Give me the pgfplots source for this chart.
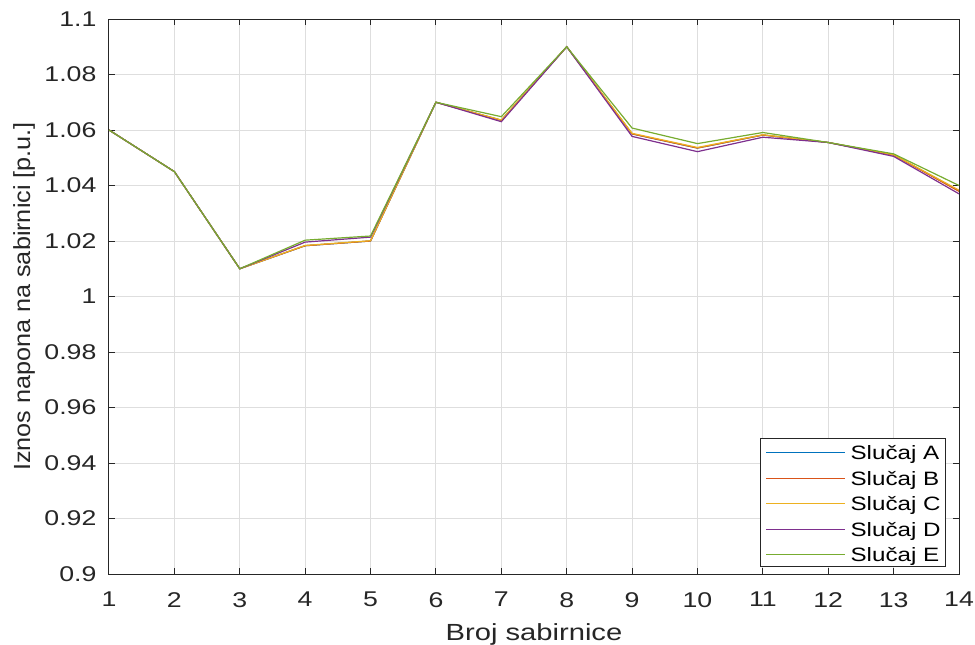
\documentclass[border=0pt]{standalone}
\usepackage{pgfplots}
\pgfplotsset{compat=1.18}
\usepackage{fontspec}
\setmainfont{Liberation Sans}[FakeStretch=1.25]
\newfontfamily\ylfont{Liberation Sans}[FakeStretch=1.08]
\definecolor{cA}{rgb}{0,0.447,0.741}
\definecolor{cB}{rgb}{0.85,0.325,0.098}
\definecolor{cC}{rgb}{0.929,0.694,0.125}
\definecolor{cD}{rgb}{0.494,0.184,0.556}
\definecolor{cE}{rgb}{0.466,0.674,0.188}
\definecolor{axgray}{rgb}{0.15,0.15,0.15}
\begin{document}
\begin{tikzpicture}
\begin{axis}[
  scale only axis,
  width=637.5pt, height=416.25pt,
  xmin=1, xmax=14, ymin=0.9, ymax=1.1,
  xtick={1,...,14},
  ytick={0.9,0.92,0.94,0.96,0.98,1,1.02,1.04,1.06,1.08,1.1},
  yticklabels={0.9,0.92,0.94,0.96,0.98,1,1.02,1.04,1.06,1.08,1.1},
  /pgf/number format/assume math mode=true,
  tick label style={font=\fontsize{16}{19}\selectfont, text=axgray, inner sep=0pt},
  xticklabel style={anchor=north, yshift=-13.5pt},
  yticklabel style={anchor=east, xshift=-9.25pt},
  xlabel={Broj sabirnice},
  ylabel={Iznos napona na sabirnici [p.u.]},
  every axis x label/.style={at={(axis description cs:0.5,-0.0883)}, anchor=north, inner sep=0pt,
    font=\fontsize{17.5}{20}\selectfont, text=axgray},
  every axis y label/.style={at={(axis description cs:-0.1129,0.5)}, rotate=90, anchor=north, inner sep=0pt,
    font=\ylfont\fontsize{17.5}{20}\selectfont, text=axgray},
  grid=major,
  major grid style={color=black!13, line width=0.75pt},
  axis line style={color=axgray, line width=0.75pt},
  tick style={color=axgray, line width=0.75pt},
  tick align=inside,
  tick pos=both,
  major tick length=4.5pt,
  legend cell align=left,
  legend style={at={(axis description cs:0.9847,0.0126)}, anchor=south east,
    draw, color=axgray, fill=white, line width=0.6pt,
    font=\fontsize{14.5}{17}\selectfont,
    inner xsep=3.75pt, inner ysep=2.8pt,
    nodes={inner sep=0pt, text height=12.9pt, text depth=1pt, text=black},
    row sep=5.225pt, column sep=3.75pt},
  legend image code/.code={\draw[#1, line width=0.9pt] (0pt,-0.75pt) -- (59.25pt,-0.75pt);},
  every axis plot/.append style={line width=0.9pt},
]
\addplot[color=cA] coordinates {(1,1.06) (2,1.045) (3,1.01) (4,1.0183) (5,1.0200) (6,1.07) (7,1.0635) (8,1.09) (9,1.0586) (10,1.0535) (11,1.0582) (12,1.0555) (13,1.0510) (14,1.0381)};
\addlegendentry{Slučaj A}
\addplot[color=cB] coordinates {(1,1.06) (2,1.045) (3,1.01) (4,1.0183) (5,1.0200) (6,1.07) (7,1.0635) (8,1.09) (9,1.0586) (10,1.0535) (11,1.0582) (12,1.0555) (13,1.0510) (14,1.0379)};
\addlegendentry{Slučaj B}
\addplot[color=cC] coordinates {(1,1.06) (2,1.045) (3,1.01) (4,1.0184) (5,1.0201) (6,1.07) (7,1.0636) (8,1.09) (9,1.0588) (10,1.0537) (11,1.0583) (12,1.0555) (13,1.0511) (14,1.0383)};
\addlegendentry{Slučaj C}
\addplot[color=cD] coordinates {(1,1.06) (2,1.045) (3,1.01) (4,1.0196) (5,1.0214) (6,1.07) (7,1.0630) (8,1.09) (9,1.0577) (10,1.0522) (11,1.0574) (12,1.0555) (13,1.0505) (14,1.0370)};
\addlegendentry{Slučaj D}
\addplot[color=cE] coordinates {(1,1.06) (2,1.045) (3,1.01) (4,1.0203) (5,1.0218) (6,1.07) (7,1.0648) (8,1.09) (9,1.0607) (10,1.0551) (11,1.0591) (12,1.0555) (13,1.0514) (14,1.0400)};
\addlegendentry{Slučaj E}
\end{axis}
\pgfresetboundingbox
\path[use as bounding box] (current axis.south west) ++(-81.75pt,-52.5pt) rectangle ++(731.25pt,483pt);
\end{tikzpicture}
\end{document}
